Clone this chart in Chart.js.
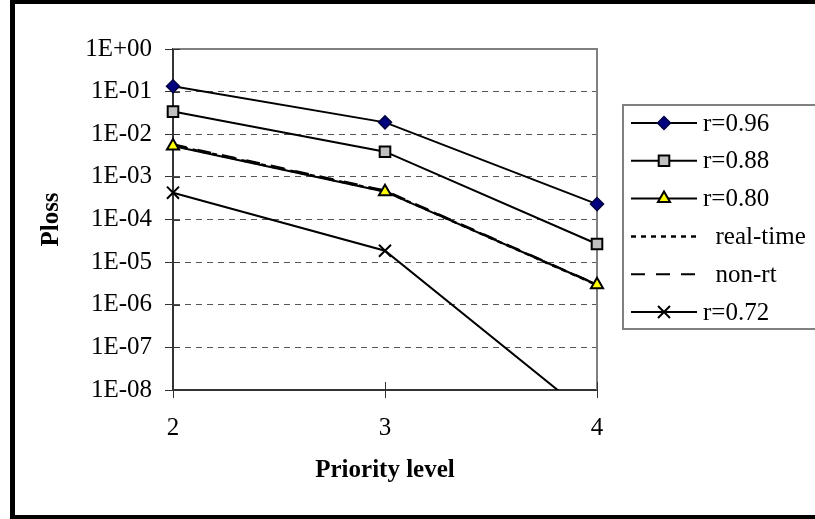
<!DOCTYPE html>
<html>
<head>
<meta charset="utf-8">
<script src="https://cdn.jsdelivr.net/npm/chart.js@4.4.1/dist/chart.umd.min.js"></script>
<style>
  html, body { margin: 0; padding: 0; background: #fff; }
  canvas { display: block; }
</style>
</head>
<body>
<canvas id="chart" width="815" height="519"></canvas>
<script>
// values
const priorityLevels = ['2', '3', '4'];
const r096 = [0.134, 0.019, 2.3e-4];
const r088 = [0.034, 3.9e-3, 2.66e-5];
const r080 = [5.3e-3, 4.5e-4, 2.95e-6];
const realTime = [5.5e-3, 4.6e-4, 2.9e-6];
const nonRt = [5.8e-3, 4.8e-4, 3.0e-6];
const r072 = [4.26e-4, 1.85e-5, 1.8e-9];

const yTickValues = [1, 1e-1, 1e-2, 1e-3, 1e-4, 1e-5, 1e-6, 1e-7, 1e-8];
const yTickLabels = ['1E+00', '1E-01', '1E-02', '1E-03', '1E-04', '1E-05', '1E-06', '1E-07', '1E-08'];

const serif = 'Liberation Serif';
const axisDark = '#333';

function series(label, data, extra) {
  return Object.assign({
    label,
    data,
    borderColor: '#000',
    borderWidth: 2,
    tension: 0,
    pointRadius: 0,
    pointBorderColor: '#000',
    pointBorderWidth: 2,
    pointBackgroundColor: '#000'
  }, extra);
}

const datasets = [
  series('r=0.96', r096, { pointStyle: 'rectRot', pointRadius: 6.5, pointBackgroundColor: '#000080', pointBorderColor: '#000040', pointBorderWidth: 1.5 }),
  series('r=0.88', r088, { pointStyle: 'rect', pointRadius: 7.5, pointBackgroundColor: '#c0c0c0' }),
  series('r=0.80', r080, { pointStyle: 'triangle', pointRadius: 7, pointBackgroundColor: '#ffff00' }),
  series('  real-time', realTime, { borderDash: [5, 5], borderWidth: 2.5 }),
  series('  non-rt', nonRt, { borderDash: [14, 11] }),
  series('r=0.72', r072, { pointStyle: 'crossRot', pointRadius: 8.5 })
];

// plot frame, inner tick marks, legend and outer border
const decorations = {
  id: 'decorations',
  beforeDraw(chart) {
    const ctx = chart.ctx;
    ctx.save();
    ctx.fillStyle = '#fff';
    ctx.fillRect(0, 0, chart.width, chart.height);
    ctx.restore();
  },
  beforeDatasetsDraw(chart) {
    const { ctx, chartArea: a, scales } = chart;
    ctx.save();
    ctx.strokeStyle = '#808080';
    ctx.lineWidth = 2;
    ctx.beginPath();
    ctx.moveTo(a.left, a.top);
    ctx.lineTo(a.right, a.top);
    ctx.lineTo(a.right, a.bottom);
    ctx.stroke();
    ctx.strokeStyle = axisDark;
    ctx.lineWidth = 1;
    yTickValues.forEach(v => {
      const y = Math.round(scales.y.getPixelForValue(v)) + 0.5;
      ctx.beginPath();
      ctx.moveTo(a.left, y);
      ctx.lineTo(a.left + 7, y);
      ctx.stroke();
    });
    priorityLevels.forEach((p, i) => {
      const x = Math.round(scales.x.getPixelForValue(i)) + 0.5;
      ctx.beginPath();
      ctx.moveTo(x, a.bottom);
      ctx.lineTo(x, a.bottom - 8);
      ctx.stroke();
    });
    ctx.restore();
  },
  afterDraw(chart) {
    const ctx = chart.ctx;
    ctx.save();
    // legend
    ctx.strokeStyle = '#808080';
    ctx.lineWidth = 2;
    ctx.strokeRect(623, 105, 230, 224);
    ctx.font = '25px "' + serif + '"';
    ctx.textBaseline = 'middle';
    ctx.fillStyle = '#000';
    chart.data.datasets.forEach((ds, i) => {
      const y = 123 + i * 37.8;
      ctx.strokeStyle = ds.borderColor;
      ctx.lineWidth = ds.borderWidth;
      ctx.setLineDash(ds.borderDash || []);
      ctx.beginPath();
      ctx.moveTo(631, y);
      ctx.lineTo(697, y);
      ctx.stroke();
      ctx.setLineDash([]);
      if (ds.pointRadius > 0) {
        ctx.fillStyle = ds.pointBackgroundColor;
        ctx.strokeStyle = ds.pointBorderColor;
        ctx.lineWidth = ds.pointBorderWidth;
        Chart.helpers.drawPoint(ctx, { pointStyle: ds.pointStyle, radius: ds.pointRadius, borderWidth: ds.pointBorderWidth, rotation: 0 }, 664, y);
      }
      ctx.fillStyle = '#000';
      ctx.fillText(ds.label, 703, y + 1);
    });
    // outer frame
    ctx.fillStyle = '#000';
    ctx.fillRect(10, 0, 5, chart.height);
    ctx.fillRect(10, 0, chart.width, 4);
    ctx.fillRect(10, chart.height - 4, chart.width, 4);
    ctx.restore();
  }
};

new Chart(document.getElementById('chart'), {
  type: 'line',
  data: { labels: priorityLevels, datasets },
  options: {
    responsive: false,
    animation: false,
    devicePixelRatio: 1,
    layout: { padding: { top: 49, right: 218, left: 0, bottom: 0 } },
    plugins: { legend: { display: false }, tooltip: { enabled: false } },
    scales: {
      x: {
        type: 'category',
        offset: false,
        afterFit: s => { s.height = 129; },
        grid: { drawOnChartArea: false, tickLength: 8, tickColor: axisDark, tickWidth: 1 },
        border: { color: axisDark, width: 2 },
        ticks: { color: '#000', padding: 15, font: { family: serif, size: 25 } },
        title: { display: true, text: 'Priority level', color: '#000', padding: { top: 0, bottom: 33 }, font: { family: serif, size: 25, weight: 'bold' } }
      },
      y: {
        type: 'logarithmic',
        min: 1e-8,
        max: 1,
        afterFit: s => { s.width = 173; },
        afterBuildTicks: s => { s.ticks = yTickValues.map(v => ({ value: v })); },
        grid: {
          color: c => (c.tick && (c.tick.value === 1 || c.tick.value === 1e-8)) ? 'rgba(0,0,0,0)' : '#555',
          lineWidth: 1,
          tickLength: 8,
          tickColor: axisDark,
          tickWidth: 1,
          tickBorderDash: []
        },
        border: { color: axisDark, width: 2, dash: [6, 5] },
        ticks: {
          color: '#000',
          padding: 13,
          autoSkip: false,
          font: { family: serif, size: 25 },
          callback: v => yTickLabels[Math.round(-Math.log10(v))]
        },
        title: { display: true, text: 'Ploss', color: '#000', padding: { top: 37, bottom: 0 }, font: { family: serif, size: 25, weight: 'bold' } }
      }
    }
  },
  plugins: [decorations]
});
</script>
</body>
</html>
